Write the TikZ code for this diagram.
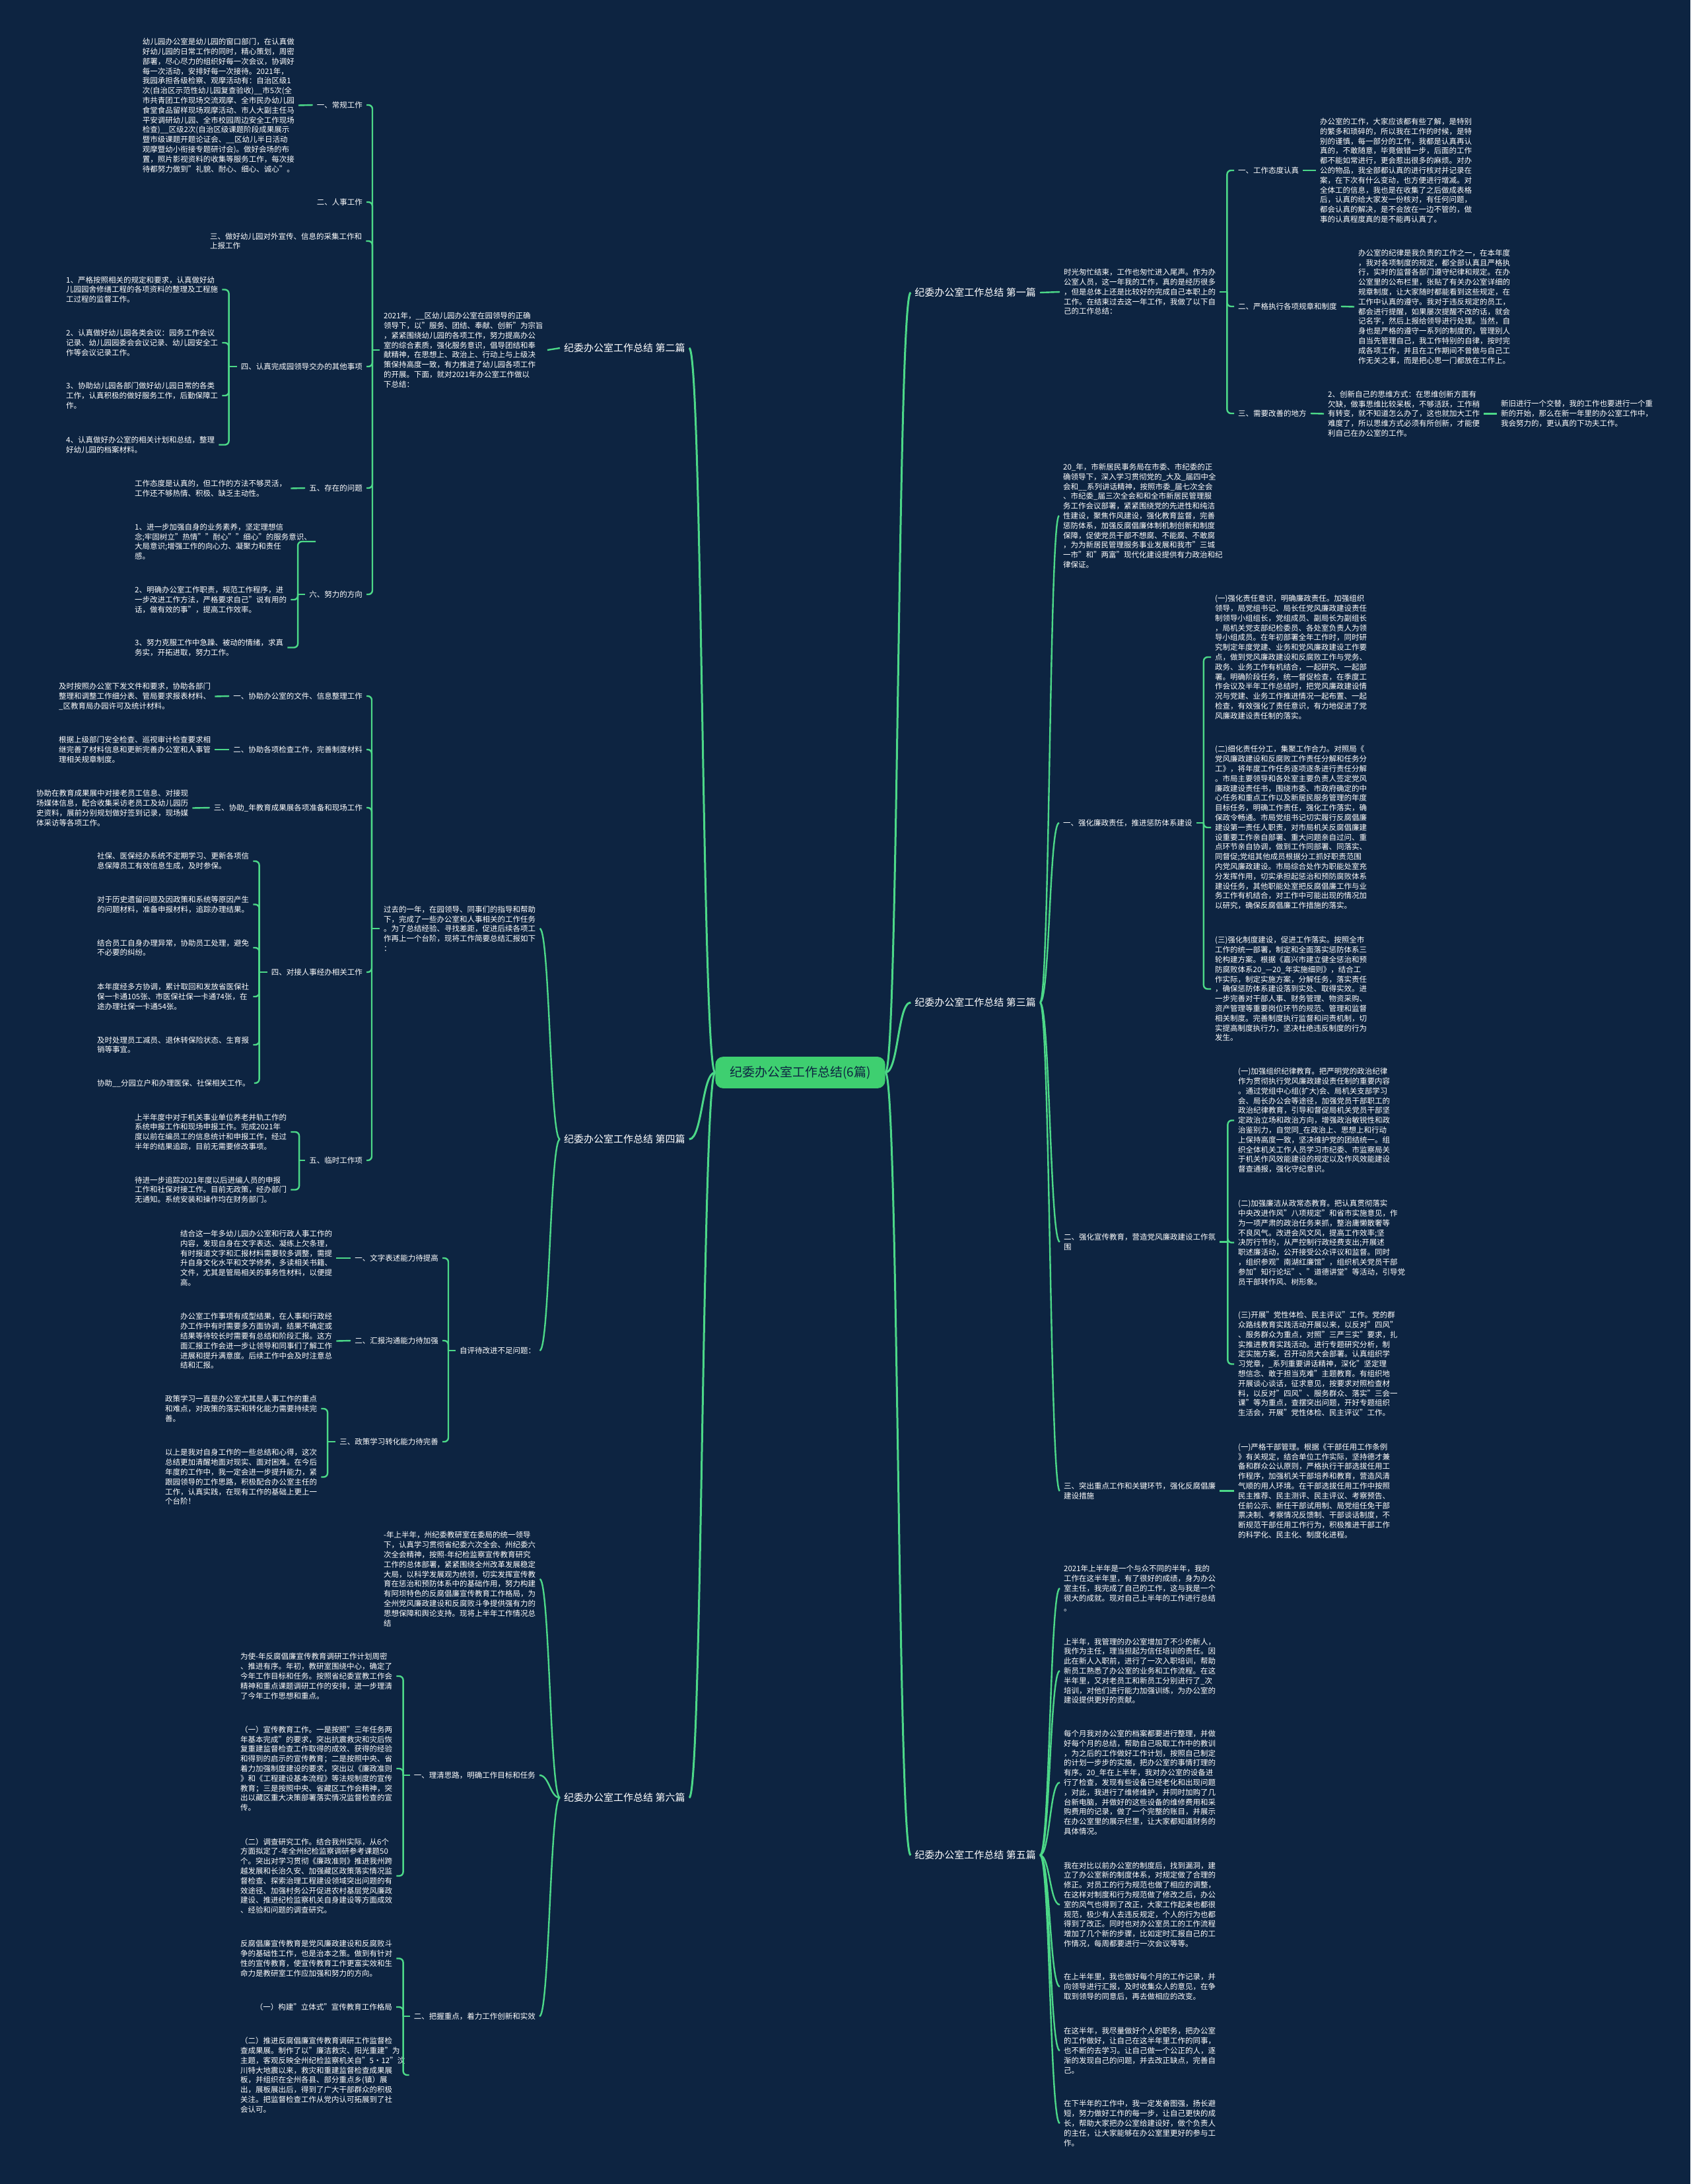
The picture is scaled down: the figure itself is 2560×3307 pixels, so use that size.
\documentclass[tikz,border=0pt]{standalone}
\usepackage{fontspec}
\setmainfont{Noto Sans CJK SC}
\definecolor{bg}{HTML}{0D2441}
\definecolor{lg}{HTML}{4CD888}
\definecolor{cg}{HTML}{3ECF70}
\tikzset{
  tx/.style={text=white, font=\fontsize{11.5}{14.8}\selectfont, align=left, inner xsep=6pt, inner ysep=1pt, anchor=west},
  txe/.style={tx, anchor=east},
  lab/.style={text=white, font=\fontsize{15}{18}\selectfont, inner xsep=6pt, inner ysep=1pt},
  rootbox/.style={fill=cg, rounded corners=12pt, text=bg, font=\fontsize{19}{22}\selectfont, inner xsep=22pt, inner ysep=14pt},
  conn/.style={draw=lg, line width=2.4pt, rounded corners=6pt},
  conn0/.style={draw=lg, line width=3pt},
}
\newcommand\Lgrp[3]{%
  \draw[conn] ([xshift=-#2pt]#1.west) -- (#1.west);
  \foreach \c in {#3} {\draw[conn] (\c.east) -| ([xshift=-#2pt]#1.west);}%
}
\newcommand\Rgrp[3]{%
  \draw[conn] ([xshift=#2pt]#1.east) -- (#1.east);
  \foreach \c in {#3} {\draw[conn] (\c.west) -| ([xshift=#2pt]#1.east);}%
}
\newcommand\Lcurves[2]{%
  \foreach \c in {#2} {\draw[conn] (#1.west) .. controls ([xshift=-15pt]#1.west) and ([xshift=15pt]\c.east) .. (\c.east);}%
}
\newcommand\Rcurves[2]{%
  \foreach \c in {#2} {\draw[conn] (#1.east) .. controls ([xshift=15pt]#1.east) and ([xshift=-15pt]\c.west) .. (\c.west);}%
}
\begin{document}
\begin{tikzpicture}[x=1pt,y=-1pt]
\fill[bg] (0,0) rectangle (2560,3307);
\useasboundingbox (0,0) rectangle (2560,3307);

% ---------- root and level 1
\node[rootbox] (R) at (1212,1624) {纪委办公室工作总结(6篇)};
\node[lab,anchor=east] (P1) at (1575,443) {纪委办公室工作总结 第一篇};
\node[lab,anchor=west] (P2) at (848,527) {纪委办公室工作总结 第二篇};
\node[lab,anchor=east] (P3) at (1575,1518) {纪委办公室工作总结 第三篇};
\node[lab,anchor=west] (P4) at (848,1725) {纪委办公室工作总结 第四篇};
\node[lab,anchor=east] (P5) at (1575,2809) {纪委办公室工作总结 第五篇};
\node[lab,anchor=west] (P6) at (848,2722) {纪委办公室工作总结 第六篇};
\foreach \p in {P1,P3,P5} \draw[conn0] (R.east) .. controls ([xshift=20pt]R.east) and ([xshift=-20pt]\p.west) .. (\p.west);
\foreach \p in {P2,P4,P6} \draw[conn0] (R.west) .. controls ([xshift=-20pt]R.west) and ([xshift=20pt]\p.east) .. (\p.east);

% ---------- 第二篇
\node[tx] (A) at (575,530) {2021年，\_\_区幼儿园办公室在园领导的正确\\领导下，以"服务、团结、奉献、创新"为宗旨\\，紧紧围绕幼儿园的各项工作，努力提高办公\\室的综合素质，强化服务意识，倡导团结和奉\\献精神，在思想上、政治上、行动上与上级决\\策保持高度一致，有力推进了幼儿园各项工作\\的开展。下面，就对2021年办公室工作做以\\下总结：};
\draw[conn] (A.east) -- (P2.west);
\node[txe] (A1) at (555,159) {一、常规工作};
\node[txe] (A2) at (555,306) {二、人事工作};
\node[tx] (A3) at (312,365) {三、做好幼儿园对外宣传、信息的采集工作和\\上报工作};
\node[txe] (A4) at (555,555) {四、认真完成园领导交办的其他事项};
\node[txe] (A5) at (555,739) {五、存在的问题};
\node[txe] (A6) at (555,900) {六、努力的方向};
\Lgrp{A}{11}{A1,A2,A3,A4,A5,A6}
\node[tx] (A1a) at (209.6,159.5) {幼儿园办公室是幼儿园的窗口部门，在认真做\\好幼儿园的日常工作的同时，精心策划，周密\\部署，尽心尽力的组织好每一次会议，协调好\\每一次活动，安排好每一次接待。2021年，\\我园承担各级检察、观摩活动有：自治区级1\\次(自治区示范性幼儿园复查验收)\_\_市5次(全\\市共青团工作现场交流观摩、全市民办幼儿园\\食堂食品留样现场观摩活动、市人大副主任马\\平安调研幼儿园、全市校园周边安全工作现场\\检查)\_\_区级2次(自治区级课题阶段成果展示\\暨市级课题开题论证会、\_\_区幼儿半日活动\\观摩暨幼小衔接专题研讨会)。做好会场的布\\置，照片影视资料的收集等服务工作，每次接\\待都努力做到"礼貌、耐心、细心、诚心"。};
\draw[conn] (A1a.east) -- (A1.west);
\node[tx] (A4a) at (94,438.5) {1、严格按照相关的规定和要求，认真做好幼\\儿园园舍修缮工程的各项资料的整理及工程施\\工过程的监督工作。};
\node[tx] (A4b) at (94,519) {2、认真做好幼儿园各类会议：园务工作会议\\记录、幼儿园园委会会议记录、幼儿园安全工\\作等会议记录工作。};
\node[tx] (A4c) at (94,599) {3、协助幼儿园各部门做好幼儿园日常的各类\\工作，认真积极的做好服务工作，后勤保障工\\作。};
\node[tx] (A4d) at (94,673.5) {4、认真做好办公室的相关计划和总结，整理\\好幼儿园的档案材料。};
\Lgrp{A4}{12}{A4a,A4b,A4c,A4d}
\node[tx] (A5a) at (198,739.5) {工作态度是认真的，但工作的方法不够灵活，\\工作还不够热情、积极、缺乏主动性。};
\draw[conn] (A5a.east) -- (A5.west);
\node[tx] (A6a) at (198,820) {1、进一步加强自身的业务素养，坚定理想信\\念;牢固树立"热情""耐心""细心"的服务意识、\\大局意识;增强工作的向心力、凝聚力和责任\\感。};
\node[tx] (A6b) at (198,908) {2、明确办公室工作职责，规范工作程序，进\\一步改进工作方法，严格要求自己"说有用的\\话，做有效的事"，提高工作效率。};
\node[tx] (A6c) at (198,980.5) {3、努力克服工作中急躁、被动的情绪，求真\\务实，开拓进取，努力工作。};
\Lgrp{A6}{11}{A6a,A6b,A6c}

% ---------- 第四篇
\node[tx] (B) at (575,1406) {过去的一年，在园领导、同事们的指导和帮助\\下，完成了一些办公室和人事相关的工作任务\\。为了总结经验、寻找差距，促进后续各项工\\作再上一个台阶，现将工作简要总结汇报如下\\：};
\node[tx] (C) at (690,2045) {自评待改进不足问题：};
\Lcurves{P4}{B,C}
\node[txe] (B1) at (555,1054) {一、协助办公室的文件、信息整理工作};
\node[txe] (B2) at (555,1135) {二、协助各项检查工作，完善制度材料};
\node[txe] (B3) at (555,1223) {三、协助\_年教育成果展各项准备和现场工作};
\node[txe] (B4) at (555,1472) {四、对接人事经办相关工作};
\node[txe] (B5) at (555,1757) {五、临时工作项};
\Lgrp{B}{12}{B1,B2,B3,B4,B5}
\node[tx] (B1a) at (83,1054.5) {及时按照办公室下发文件和要求，协助各部门\\整理和调整工作细分表、管局要求报表材料、\\\_区教育局办园许可及统计材料。};
\draw[conn] (B1a.east) -- (B1.west);
\node[tx] (B2a) at (83,1135) {根据上级部门安全检查、巡视审计检查要求相\\继完善了材料信息和更新完善办公室和人事管\\理相关规章制度。};
\draw[conn] (B2a.east) -- (B2.west);
\node[tx] (B3a) at (49,1223.5) {协助在教育成果展中对接老员工信息、对接现\\场媒体信息，配合收集采访老员工及幼儿园历\\史资料，展前分别规划做好签到记录，现场媒\\体采访等各项工作。};
\draw[conn] (B3a.east) -- (B3.west);
\node[tx] (B4a) at (141,1304) {社保、医保经办系统不定期学习、更新各项信\\息保障员工有效信息生成，及时参保。};
\node[tx] (B4b) at (141,1369.5) {对于历史遗留问题及因政策和系统等原因产生\\的问题材料，准备申报材料，追踪办理结果。};
\node[tx] (B4c) at (141,1435) {结合员工自身办理异常，协助员工处理，避免\\不必要的纠纷。};
\node[tx] (B4d) at (141,1509) {本年度经多方协调，累计取回和发放省医保社\\保一卡通105张、市医保社保一卡通74张，在\\途办理社保一卡通54张。};
\node[tx] (B4e) at (141,1582) {及时处理员工减员、退休转保险状态、生育报\\销等事宜。};
\node[tx] (B4f) at (141,1640) {协助\_\_分园立户和办理医保、社保相关工作。};
\Lgrp{B4}{12}{B4a,B4b,B4c,B4d,B4e,B4f}
\node[tx] (B5a) at (198,1714) {上半年度中对于机关事业单位养老并轨工作的\\系统申报工作和现场申报工作。完成2021年\\度以前在编员工的信息统计和申报工作，经过\\半年的结果追踪，目前无需要修改事项。};
\node[tx] (B5b) at (198,1801.5) {待进一步追踪2021年度以后进编人员的申报\\工作和社保对接工作。目前无政策，经办部门\\无通知。系统安装和操作均在财务部门。};
\Lgrp{B5}{9}{B5a,B5b}
\node[txe] (C1) at (670,1905) {一、文字表述能力待提高};
\node[txe] (C2) at (670,2030) {二、汇报沟通能力待加强};
\node[txe] (C3) at (670,2183) {三、政策学习转化能力待完善};
\Lgrp{C}{11}{C1,C2,C3}
\node[tx] (C1a) at (267,1905) {结合这一年多幼儿园办公室和行政人事工作的\\内容，发现自身在文字表达、凝练上欠条理，\\有时报道文字和汇报材料需要较多调整，需提\\升自身文化水平和文学修养，多读相关书籍、\\文件，尤其是管局相关的事务性材料，以便提\\高。};
\draw[conn] (C1a.east) -- (C1.west);
\node[tx] (C2a) at (267,2030.5) {办公室工作事项有成型结果，在人事和行政经\\办工作中有时需要多方面协调，结果不确定或\\结果等待较长时需要有总结和阶段汇报。这方\\面汇报工作会进一步让领导和同事们了解工作\\进展和提升满意度。后续工作中会及时注意总\\结和汇报。};
\draw[conn] (C2a.east) -- (C2.west);
\node[tx] (C3a) at (244,2133) {政策学习一直是办公室尤其是人事工作的重点\\和难点，对政策的落实和转化能力需要持续完\\善。};
\node[tx] (C3b) at (244,2236.5) {以上是我对自身工作的一些总结和心得，这次\\总结更加清醒地面对现实、面对困难。在今后\\年度的工作中，我一定会进一步提升能力，紧\\跟园领导的工作思路，积极配合办公室主任的\\工作，认真实践，在现有工作的基础上更上一\\个台阶！};
\Lgrp{C3}{12}{C3a,C3b}

% ---------- 第六篇
\node[tx] (D) at (575,2391) {-年上半年，州纪委教研室在委局的统一领导\\下，认真学习贯彻省纪委六次全会、州纪委六\\次全会精神，按照-年纪检监察宣传教育研究\\工作的总体部署，紧紧围绕全州改革发展稳定\\大局，以科学发展观为统领，切实发挥宣传教\\育在惩治和预防体系中的基础作用，努力构建\\有阿坝特色的反腐倡廉宣传教育工作格局，为\\全州党风廉政建设和反腐败斗争提供强有力的\\思想保障和舆论支持。现将上半年工作情况总\\结};
\node[txe] (D1) at (817,2688) {一、理清思路，明确工作目标和任务};
\node[txe] (D2) at (817,3053) {二、把握重点，着力工作创新和实效};
\Lcurves{P6}{D,D1,D2}
\node[tx] (D1a) at (358,2538) {为使-年反腐倡廉宣传教育调研工作计划周密\\、推进有序。年初，教研室围绕中心，确定了\\今年工作目标和任务。按照省纪委宣教工作会\\精神和重点课题调研工作的安排，进一步理清\\了今年工作思想和重点。};
\node[tx] (D1b) at (358,2678) {（一）宣传教育工作。一是按照"三年任务两\\年基本完成"的要求，突出抗震救灾和灾后恢\\复重建监督检查工作取得的成效、获得的经验\\和得到的启示的宣传教育；二是按照中央、省\\着力加强制度建设的要求，突出以《廉政准则\\》和《工程建设基本流程》等法规制度的宣传\\教育；三是按照中央、省藏区工作会精神，突\\出以藏区重大决策部署落实情况监督检查的宣\\传。};
\node[tx] (D1c) at (358,2840.5) {（二）调查研究工作。结合我州实际，从6个\\方面拟定了-年全州纪检监察调研参考课题50\\个。突出对学习贯彻《廉政准则》推进我州跨\\越发展和长治久安、加强藏区政策落实情况监\\督检查、探索治理工程建设领域突出问题的有\\效途径、加强村务公开促进农村基层党风廉政\\建设、推进纪检监察机关自身建设等方面成效\\、经验和问题的调查研究。};
\Lgrp{D1}{10}{D1a,D1b,D1c}
\node[tx] (D2a) at (358,2965.5) {反腐倡廉宣传教育是党风廉政建设和反腐败斗\\争的基础性工作，也是治本之策。做到有针对\\性的宣传教育，使宣传教育工作更富实效和生\\命力是教研室工作应加强和努力的方向。};
\node[txe] (D2b) at (600,3039) {（一）构建"立体式"宣传教育工作格局};
\node[tx] (D2c) at (358,3142) {（二）推进反腐倡廉宣传教育调研工作监督检\\查成果展。制作了以"廉洁救灾、阳光重建"为\\主题，客观反映全州纪检监察机关自"5·12"汶\\川特大地震以来，救灾和重建监督检查成果展\\板，并组织在全州各县、部分重点乡(镇）展\\出，展板展出后，得到了广大干部群众的积极\\关注。把监督检查工作从党内认可拓展到了社\\会认可。};
\Lgrp{D2}{10}{D2a,D2b,D2c}

% ---------- 第一篇
\node[tx] (E) at (1605,442) {时光匆忙结束，工作也匆忙进入尾声。作为办\\公室人员，这一年我的工作，真的是经历很多\\，但是总体上还是比较好的完成自己本职上的\\工作。在结束过去这一年工作，我做了以下自\\己的工作总结：};
\draw[conn] (P1.east) -- (E.west);
\node[tx] (E1) at (1869,258) {一、工作态度认真};
\node[tx] (E2) at (1869,464) {二、严格执行各项规章和制度};
\node[tx] (E3) at (1869,626) {三、需要改善的地方};
\Rgrp{E}{11}{E1,E2,E3}
\node[tx] (E1a) at (1993,258) {办公室的工作，大家应该都有些了解，是特别\\的繁多和琐碎的，所以我在工作的时候，是特\\别的谨慎，每一部分的工作，我都是认真再认\\真的，不敢随意，毕竟做错一步，后面的工作\\都不能如常进行，更会惹出很多的麻烦。对办\\公的物品，我全部都认真的进行核对并记录在\\案，在下次有什么变动，也方便进行增减。对\\全体工的信息，我也是在收集了之后做成表格\\后，认真的给大家发一份核对，有任何问题，\\都会认真的解决，是不会放在一边不管的，做\\事的认真程度真的是不能再认真了。};
\draw[conn] (E1.east) -- (E1a.west);
\node[tx] (E2a) at (2051,464.5) {办公室的纪律是我负责的工作之一，在本年度\\，我对各项制度的规定，都全部认真且严格执\\行，实时的监督各部门遵守纪律和规定。在办\\公室里的公布栏里，张贴了有关办公室详细的\\规章制度，让大家随时都能看到这些规定，在\\工作中认真的遵守。我对于违反规定的员工，\\都会进行提醒，如果屡次提醒不改的话，就会\\记名字，然后上报给领导进行处理。当然，自\\身也是严格的遵守一系列的制度的，管理别人\\自当先管理自己，我工作特别的自律，按时完\\成各项工作，并且在工作期间不曾做与自己工\\作无关之事，而是把心思一门都放在工作上。};
\draw[conn] (E2.east) -- (E2a.west);
\node[tx] (E3a) at (2005,626.5) {2、创新自己的思维方式：在思维创新方面有\\欠缺，做事思维比较呆板，不够活跃，工作稍\\有转变，就不知道怎么办了，这也就加大工作\\难度了，所以思维方式必须有所创新，才能便\\利自己在办公室的工作。};
\draw[conn] (E3.east) -- (E3a.west);
\node[tx] (E3b) at (2267,626.5) {新旧进行一个交替，我的工作也要进行一个重\\新的开始，那么在新一年里的办公室工作中，\\我会努力的，更认真的下功夫工作。};
\draw[conn] (E3a.east) -- (E3b.west);

% ---------- 第三篇
\node[tx] (F) at (1604,781) {20\_年，市新居民事务局在市委、市纪委的正\\确领导下，深入学习贯彻党的\_大及\_届四中全\\会和\_\_系列讲话精神，按照市委\_届七次全会\\、市纪委\_届三次全会和和全市新居民管理服\\务工作会议部署，紧紧围绕党的先进性和纯洁\\性建设，聚焦作风建设，强化教育监督，完善\\惩防体系，加强反腐倡廉体制机制创新和制度\\保障，促使党员干部不想腐、不能腐、不敢腐\\，为为新居民管理服务事业发展和我市"三城\\一市"和"两富"现代化建设提供有力政治和纪\\律保证。};
\node[tx] (F1) at (1604,1246) {一、强化廉政责任，推进惩防体系建设};
\node[tx] (F2) at (1605,1880.5) {二、强化宣传教育，营造党风廉政建设工作氛\\围};
\node[tx] (F3) at (1605,2257.5) {三、突出重点工作和关键环节，强化反腐倡廉\\建设措施};
\Rcurves{P3}{F,F1,F2,F3}
\node[tx] (F1a) at (1834,995) {(一)强化责任意识，明确廉政责任。加强组织\\领导，局党组书记、局长任党风廉政建设责任\\制领导小组组长，党组成员、副局长为副组长\\，局机关党支部纪检委员、各处室负责人为领\\导小组成员。在年初部署全年工作时，同时研\\究制定年度党建、业务和党风廉政建设工作要\\点，做到党风廉政建设和反腐败工作与党务、\\政务、业务工作有机结合，一起研究、一起部\\署。明确阶段任务，统一督促检查，在季度工\\作会议及半年工作总结时，把党风廉政建设情\\况与党建、业务工作推进情况一起布置、一起\\检查，有效强化了责任意识，有力地促进了党\\风廉政建设责任制的落实。};
\node[tx] (F1b) at (1834,1253) {(二)细化责任分工，集聚工作合力。对照局《\\党风廉政建设和反腐败工作责任分解和任务分\\工》，将年度工作任务逐项逐条进行责任分解\\。市局主要领导和各处室主要负责人签定党风\\廉政建设责任书，围绕市委、市政府确定的中\\心任务和重点工作以及新居民服务管理的年度\\目标任务，明确工作责任，强化工作落实，确\\保政令畅通。市局党组书记切实履行反腐倡廉\\建设第一责任人职责，对市局机关反腐倡廉建\\设重要工作亲自部署、重大问题亲自过问、重\\点环节亲自协调，做到工作同部署、同落实、\\同督促;党组其他成员根据分工抓好职责范围\\内党风廉政建设。市局综合处作为职能处室充\\分发挥作用，切实承担起惩治和预防腐败体系\\建设任务，其他职能处室把反腐倡廉工作与业\\务工作有机结合，对工作中可能出现的情况加\\以研究，确保反腐倡廉工作措施的落实。};
\node[tx] (F1c) at (1834,1497.5) {(三)强化制度建设，促进工作落实。按照全市\\工作的统一部署，制定和全面落实惩防体系三\\轮构建方案。根据《嘉兴市建立健全惩治和预\\防腐败体系20\_—20\_年实施细则》，结合工\\作实际，制定实施方案，分解任务，落实责任\\，确保惩防体系建设落到实处、取得实效。进\\一步完善对干部人事、财务管理、物资采购、\\资产管理等重要岗位环节的规范、管理和监督\\相关制度。完善制度执行监督和问责机制，切\\实提高制度执行力，坚决杜绝违反制度的行为\\发生。};
\Rgrp{F1}{11}{F1a,F1b,F1c}
\node[tx] (F2a) at (1869,1696.5) {(一)加强组织纪律教育。把严明党的政治纪律\\作为贯彻执行党风廉政建设责任制的重要内容\\。通过党组中心组(扩大)会、局机关支部学习\\会、局长办公会等途径，加强党员干部职工的\\政治纪律教育，引导和督促局机关党员干部坚\\定政治立场和政治方向，增强政治敏锐性和政\\治鉴别力，自觉同\_在政治上、思想上和行动\\上保持高度一致，坚决维护党的团结统一。组\\织全体机关工作人员学习市纪委、市监察局关\\于机关作风效能建设的规定以及作风效能建设\\督查通报，强化守纪意识。};
\node[tx] (F2b) at (1869,1881.5) {(二)加强廉洁从政常态教育。把认真贯彻落实\\中央改进作风"八项规定"和省市实施意见，作\\为一项严肃的政治任务来抓，整治庸懒散奢等\\不良风气。改进会风文风，提高工作效率;坚\\决厉行节约，从严控制行政经费支出;开展述\\职述廉活动，公开接受公众评议和监督。同时\\，组织参观"南湖红廉馆"，组织机关党员干部\\参加"知行论坛"、"道德讲堂"等活动，引导党\\员干部转作风、树形象。};
\node[tx] (F2c) at (1869,2065.5) {(三)开展"党性体检、民主评议"工作。党的群\\众路线教育实践活动开展以来，以反对"四风"\\、服务群众为重点，对照"三严三实"要求，扎\\实推进教育实践活动。进行专题研究分析，制\\定实施方案，召开动员大会部署。认真组织学\\习党章，\_系列重要讲话精神，深化"坚定理\\想信念、敢于担当克难"主题教育。有组织地\\开展谈心谈话，征求意见，按要求对照检查材\\料，以反对"四风"、服务群众、落实"三会一\\课"等为重点，查摆突出问题，开好专题组织\\生活会，开展"党性体检、民主评议"工作。};
\Rgrp{F2}{12}{F2a,F2b,F2c}
\node[tx] (F3a) at (1869,2257.5) {(一)严格干部管理。根据《干部任用工作条例\\》有关规定，结合单位工作实际，坚持德才兼\\备和群众公认原则，严格执行干部选拔任用工\\作程序，加强机关干部培养和教育，营造风清\\气顺的用人环境。在干部选拔任用工作中按照\\民主推荐、民主测评、民主评议、考察预告、\\任前公示、新任干部试用制、局党组任免干部\\票决制、考察情况反馈制、干部谈话制度，不\\断规范干部任用工作行为，积极推进干部工作\\的科学化、民主化、制度化进程。};
\draw[conn] (F3.east) -- (F3a.west);

% ---------- 第五篇
\node[tx] (G1) at (1605,2405) {2021年上半年是一个与众不同的半年，我的\\工作在这半年里，有了很好的成绩，身为办公\\室主任，我完成了自己的工作，这与我是一个\\很大的成就。现对自己上半年的工作进行总结\\。};
\node[tx] (G2) at (1605,2530) {上半年，我管理的办公室增加了不少的新人，\\我作为主任，理当担起为信任培训的责任。因\\此在新人入职前，进行了一次入职培训，帮助\\新员工熟悉了办公室的业务和工作流程。在这\\半年里，又对老员工和新员工分别进行了\_次\\培训，对他们进行能力加强训练，为办公室的\\建设提供更好的贡献。};
\node[tx] (G3) at (1605,2699) {每个月我对办公室的档案都要进行整理，并做\\好每个月的总结，帮助自己吸取工作中的教训\\，为之后的工作做好工作计划，按照自己制定\\的计划一步步的实施，把办公室的事情打理的\\有序。20\_年在上半年，我对办公室的设备进\\行了检查，发现有些设备已经老化和出现问题\\，对此，我进行了维修维护，并同时加购了几\\台新电脑，并做好的这些设备的维修费用和采\\购费用的记录，做了一个完整的账目，并展示\\在办公室里的展示栏里，让大家都知道财务的\\具体情况。};
\node[tx] (G4) at (1605,2884) {我在对比以前办公室的制度后，找到漏洞，建\\立了办公室新的制度体系，对规定做了合理的\\修正。对员工的行为规范也做了相应的调整，\\在这样对制度和行为规范做了修改之后，办公\\室的风气也得到了改正，大家工作起来也都很\\规范，极少有人去违反规定，个人的行为也都\\得到了改正。同时也对办公室员工的工作流程\\增加了几个新的步骤，比如定时汇报自己的工\\作情况，每周都要进行一次会议等等。};
\node[tx] (G5) at (1605,3008) {在上半年里，我也做好每个月的工作记录，并\\向领导进行汇报，及时收集众人的意见，在争\\取到领导的同意后，再去做相应的改变。};
\node[tx] (G6) at (1605,3105) {在这半年，我尽量做好个人的职务，把办公室\\的工作做好，让自己在这半年里工作的同事，\\也不断的去学习。让自己做一个公正的人，逐\\渐的发现自己的问题，并去改正缺点，完善自\\己。};
\node[tx] (G7) at (1605,3215) {在下半年的工作中，我一定发奋图强，扬长避\\短，努力做好工作的每一步，让自己更快的成\\长，帮助大家把办公室给建设好，做个负责人\\的主任，让大家能够在办公室里更好的参与工\\作。};
\Rcurves{P5}{G1,G2,G3,G4,G5,G6,G7}
\end{tikzpicture}
\end{document}
